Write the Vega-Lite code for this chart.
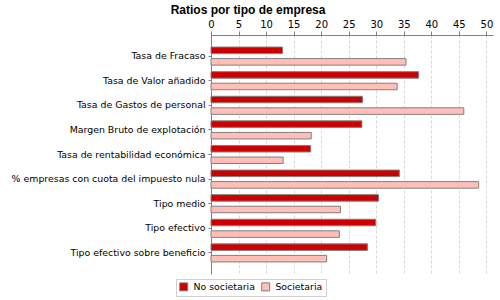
{
  "$schema": "https://vega.github.io/schema/vega-lite/v6.json",
  "autosize": "none",
  "padding": {"left": 211, "top": 35, "right": 8, "bottom": 26},
  "width": 282,
  "height": 239,
  "background": "white",
  "title": {"text": "Ratios por tipo de empresa", "frame": "bounds", "anchor": "middle", "font": "Liberation Sans", "fontSize": 12, "fontWeight": "bold", "color": "#000000", "offset": 2, "dx": -4},
  "data": {"values": [
    {"ratio": "Tasa de Fracaso", "tipo": "No societaria", "valor": 13.0},
    {"ratio": "Tasa de Fracaso", "tipo": "Societaria", "valor": 35.4},
    {"ratio": "Tasa de Valor añadido", "tipo": "No societaria", "valor": 37.7},
    {"ratio": "Tasa de Valor añadido", "tipo": "Societaria", "valor": 33.8},
    {"ratio": "Tasa de Gastos de personal", "tipo": "No societaria", "valor": 27.5},
    {"ratio": "Tasa de Gastos de personal", "tipo": "Societaria", "valor": 45.9},
    {"ratio": "Margen Bruto de explotación", "tipo": "No societaria", "valor": 27.4},
    {"ratio": "Margen Bruto de explotación", "tipo": "Societaria", "valor": 18.2},
    {"ratio": "Tasa de rentabilidad económica", "tipo": "No societaria", "valor": 18.1},
    {"ratio": "Tasa de rentabilidad económica", "tipo": "Societaria", "valor": 13.1},
    {"ratio": "% empresas con cuota del impuesto nula", "tipo": "No societaria", "valor": 34.2},
    {"ratio": "% empresas con cuota del impuesto nula", "tipo": "Societaria", "valor": 48.6},
    {"ratio": "Tipo medio", "tipo": "No societaria", "valor": 30.4},
    {"ratio": "Tipo medio", "tipo": "Societaria", "valor": 23.5},
    {"ratio": "Tipo efectivo", "tipo": "No societaria", "valor": 29.9},
    {"ratio": "Tipo efectivo", "tipo": "Societaria", "valor": 23.3},
    {"ratio": "Tipo efectivo sobre beneficio", "tipo": "No societaria", "valor": 28.4},
    {"ratio": "Tipo efectivo sobre beneficio", "tipo": "Societaria", "valor": 21.0}
  ]},
  "mark": {"type": "bar", "stroke": "#808080", "strokeWidth": 1},
  "encoding": {
    "y": {
      "field": "ratio", "type": "nominal", "sort": null,
      "scale": {"paddingInner": 0.265, "paddingOuter": 0.49},
      "axis": {"title": null, "labelFont": "DejaVu Sans", "labelFontSize": 9.4, "labelColor": "#000000", "labelPadding": 3, "labelLimit": 300, "tickSize": 3, "tickColor": "#808080", "domainColor": "#808080", "grid": false}
    },
    "yOffset": {"field": "tipo", "type": "nominal", "sort": ["No societaria", "Societaria"], "scale": {"paddingInner": 0.435}},
    "x": {
      "field": "valor", "type": "quantitative",
      "scale": {"domain": [0, 51.2], "nice": false, "zero": true},
      "axis": {"orient": "top", "title": null, "values": [0, 5, 10, 15, 20, 25, 30, 35, 40, 45, 50], "labelFont": "DejaVu Sans", "labelFontSize": 10, "labelColor": "#000000", "labelPadding": 2, "tickSize": 4, "tickColor": "#808080", "domainColor": "#808080", "grid": true, "gridColor": "#d8d8d8", "gridDash": [3, 2], "labelFlush": false}
    },
    "color": {
      "field": "tipo", "type": "nominal",
      "scale": {"domain": ["No societaria", "Societaria"], "range": ["#cc0000", "#ffbfb8"]},
      "legend": {"title": null, "orient": "none", "direction": "horizontal", "legendX": -35, "legendY": 244, "symbolType": "square", "symbolSize": 64, "symbolStrokeColor": "#808080", "symbolStrokeWidth": 1, "labelFont": "DejaVu Sans", "labelFontSize": 9.4, "labelColor": "#000000", "labelOffset": 5, "columnPadding": 4, "padding": 3, "strokeColor": "#d0d0d0"}
    }
  },
  "config": {"view": {"stroke": null}}
}
